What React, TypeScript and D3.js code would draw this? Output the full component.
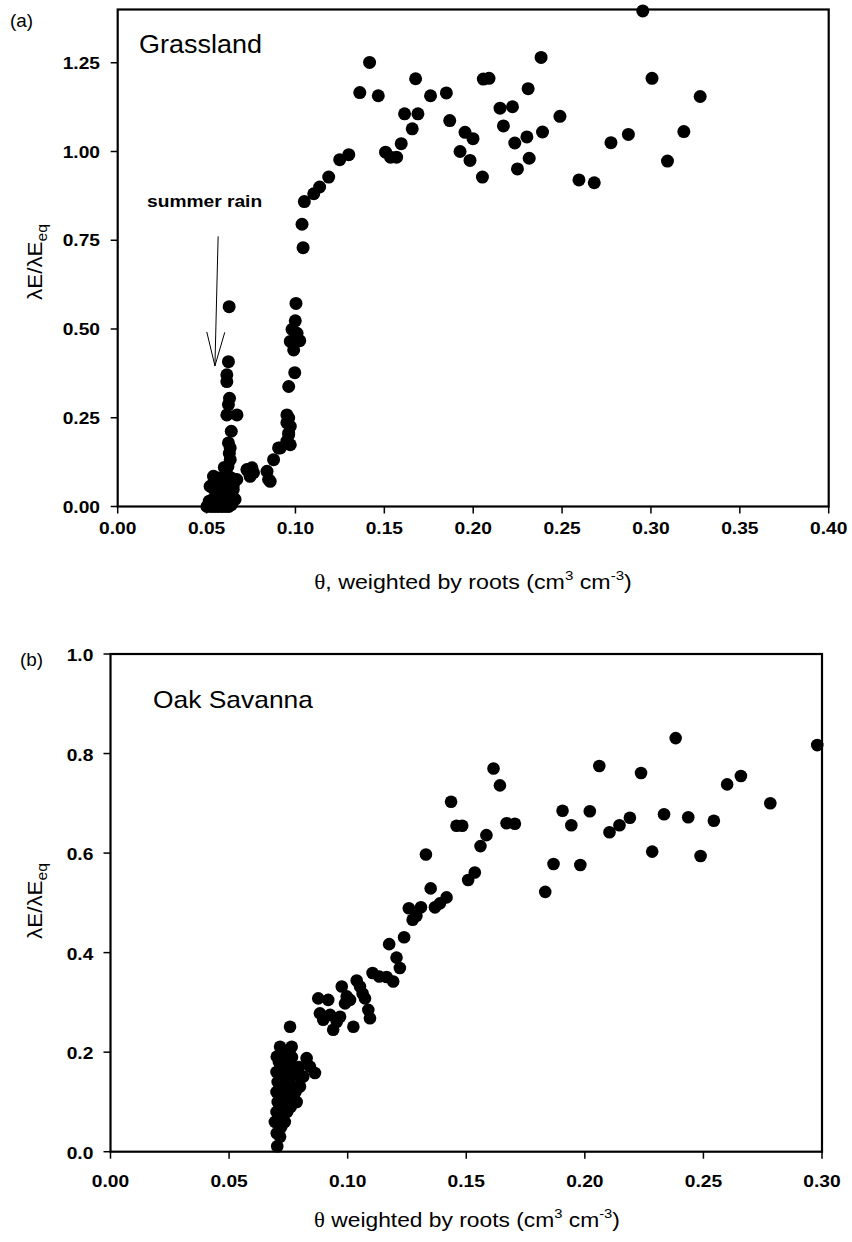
import React from 'react';
import * as d3 from 'd3';

// ---------- Panel (a) Grassland ----------
const grassTheta = [
  0.0502, 0.0525, 0.0545, 0.0565, 0.0585, 0.0605, 0.0625, 0.0640,
  0.0535, 0.0555, 0.0575, 0.0600, 0.0620, 0.0645,
  0.0540, 0.0560, 0.0585, 0.0610, 0.0630, 0.0650, 0.0520,
  0.0515, 0.0555, 0.0590, 0.0610, 0.0570, 0.0545, 0.0630, 0.0650, 0.0660,
  0.0539, 0.0565, 0.0595, 0.0615, 0.0640, 0.0670,
  0.0600, 0.0620, 0.0633, 0.0628, 0.0633, 0.0623, 0.0639,
  0.0614, 0.0671, 0.0623, 0.0629, 0.0614, 0.0614, 0.0623, 0.0627,
  0.0727, 0.0755, 0.0736, 0.0764, 0.0745, 0.0840, 0.0849, 0.0858,
  0.0877, 0.0905, 0.0915, 0.0971, 0.0952, 0.0962, 0.0962, 0.0971, 0.0962, 0.0952, 0.0952,
  0.0962, 0.0996, 0.0990, 0.0971, 0.1024, 0.1009, 0.0981, 0.0999, 0.1003,
  0.1043, 0.1037, 0.1050, 0.1103, 0.1136, 0.1187, 0.1249, 0.1300,
  0.1362, 0.1417, 0.1466, 0.1507, 0.1535, 0.1569, 0.1595, 0.1614, 0.1657, 0.1676, 0.1689,
  0.1760, 0.1849, 0.1868, 0.1926, 0.1954, 0.1982, 0.1999, 0.2052, 0.2057, 0.2089,
  0.2151, 0.2170, 0.2221, 0.2234, 0.2249, 0.2302, 0.2309, 0.2315, 0.2382, 0.2390, 0.2488,
  0.2595, 0.2681, 0.2775, 0.2873, 0.2954, 0.3006, 0.3093, 0.3185, 0.3277,
];
const grassRatio = [
  0.000, 0.000, 0.000, 0.000, 0.000, 0.000, 0.000, 0.005,
  0.020, 0.030, 0.020, 0.030, 0.020, 0.030,
  0.050, 0.060, 0.050, 0.060, 0.050, 0.048, 0.057,
  0.015, 0.045, 0.035, 0.015, 0.070, 0.065, 0.070, 0.060, 0.020,
  0.085, 0.080, 0.070, 0.090, 0.080, 0.076,
  0.110, 0.113, 0.132, 0.150, 0.165, 0.179, 0.212,
  0.258, 0.258, 0.287, 0.305, 0.352, 0.371, 0.408, 0.563,
  0.104, 0.109, 0.099, 0.095, 0.085, 0.099, 0.076, 0.071,
  0.132, 0.165, 0.165, 0.174, 0.184, 0.202, 0.207, 0.226, 0.249, 0.236, 0.258,
  0.338, 0.377, 0.441, 0.465, 0.467, 0.488, 0.499, 0.523, 0.572,
  0.729, 0.795, 0.859, 0.881, 0.900, 0.928, 0.977, 0.991,
  1.166, 1.251, 1.157, 0.998, 0.984, 0.984, 1.022, 1.106, 1.064, 1.205, 1.106,
  1.157, 1.165, 1.087, 1.000, 1.054, 0.975, 1.036, 0.928, 1.204, 1.206,
  1.122, 1.072, 1.126, 1.024, 0.951, 1.041, 1.177, 0.981, 1.265, 1.055, 1.099,
  0.920, 0.912, 1.025, 1.048, 1.396, 1.206, 0.973, 1.056, 1.155,
];
const grassXTicks = [0, 0.05, 0.1, 0.15, 0.2, 0.25, 0.3, 0.35, 0.4];
const grassYTicks = [0, 0.25, 0.5, 0.75, 1.0, 1.25];
// arrow annotation (data coords): start and tip
const rainArrowFrom = [0.0565, 0.761];
const rainArrowTo = [0.0547, 0.396];

// ---------- Panel (b) Oak Savanna ----------
const oakTheta = [
  0.0703, 0.0701, 0.0693, 0.0700, 0.0705, 0.0700, 0.0705, 0.0700, 0.0710,
  0.0720, 0.0725, 0.0720, 0.0730, 0.0725, 0.0730, 0.0720, 0.0730,
  0.0745, 0.0740, 0.0750, 0.0745, 0.0755, 0.0740, 0.0750,
  0.0765, 0.0770, 0.0760, 0.0775, 0.0765,
  0.0785, 0.0790, 0.0800, 0.0795,
  0.0715, 0.0735, 0.0710, 0.0780, 0.0760,
  0.0701, 0.0743, 0.0715, 0.0764, 0.0757,
  0.0827, 0.0841, 0.0862, 0.0813, 0.0799,
  0.0876, 0.0918, 0.0883, 0.0897, 0.0939, 0.0954, 0.0926,
  0.0975, 0.0996, 0.0989, 0.1010, 0.1024, 0.0968,
  0.1038, 0.1052, 0.1063, 0.1073, 0.1087, 0.1094,
  0.1105, 0.1133, 0.1164, 0.1192, 0.1206, 0.1220, 0.1175, 0.1238,
  0.1274, 0.1290, 0.1258, 0.1309, 0.1368, 0.1389, 0.1417, 0.1350, 0.1508, 0.1536,
  0.1330, 0.1560, 0.1585, 0.1833, 0.1868, 0.1981,
  0.1436, 0.1459, 0.1483, 0.1615, 0.1642, 0.1670, 0.1705, 0.1906, 0.1943, 0.2021,
  0.2061, 0.2104, 0.2146, 0.2190, 0.2237, 0.2284, 0.2334, 0.2383, 0.2436, 0.2488,
  0.2544, 0.2600, 0.2658, 0.2782, 0.2980,
];
const oakRatio = [
  0.011, 0.037, 0.060, 0.080, 0.100, 0.120, 0.140, 0.160, 0.180,
  0.050, 0.070, 0.090, 0.110, 0.130, 0.150, 0.170, 0.190,
  0.080, 0.100, 0.120, 0.140, 0.160, 0.180, 0.200,
  0.110, 0.130, 0.150, 0.170, 0.190,
  0.100, 0.130, 0.150, 0.170,
  0.030, 0.060, 0.100, 0.120, 0.090,
  0.191, 0.191, 0.211, 0.211, 0.251,
  0.188, 0.171, 0.158, 0.151, 0.131,
  0.308, 0.305, 0.278, 0.265, 0.245, 0.261, 0.275,
  0.332, 0.312, 0.298, 0.305, 0.251, 0.271,
  0.344, 0.332, 0.318, 0.308, 0.285, 0.268,
  0.359, 0.352, 0.351, 0.342, 0.390, 0.369, 0.417, 0.431,
  0.466, 0.474, 0.489, 0.491, 0.491, 0.499, 0.511, 0.529, 0.546, 0.561,
  0.597, 0.614, 0.636, 0.522, 0.578, 0.576,
  0.703, 0.655, 0.655, 0.770, 0.736, 0.660, 0.659, 0.685, 0.656, 0.684,
  0.775, 0.642, 0.656, 0.671, 0.761, 0.603, 0.678, 0.831, 0.672, 0.594,
  0.665, 0.738, 0.755, 0.700, 0.817,
];
const oakXTicks = [0, 0.05, 0.1, 0.15, 0.2, 0.25, 0.3];
const oakYTicks = [0, 0.2, 0.4, 0.6, 0.8, 1.0];

const SANS = "'Liberation Sans', Arial, Helvetica, sans-serif";
const SERIF = "'Liberation Serif', 'Times New Roman', serif";

type TProps = {
  x: number; y: number; size: number; sx?: number; anchor?: string;
  weight?: string; family?: string; rotate?: number; children: React.ReactNode;
};
function T({ x, y, size, sx = 1.12, anchor = 'start', weight = 'normal', family = SANS, rotate = 0, children }: TProps) {
  return (
    <text
      transform={`translate(${x},${y}) rotate(${rotate}) scale(${sx},1)`}
      textAnchor={anchor as any}
      fontSize={size}
      fontWeight={weight}
      fontFamily={family}
      fill="#000"
    >
      {children}
    </text>
  );
}

type Box = { left: number; right: number; top: number; bottom: number };

function Panel(props: {
  box: Box; xDomain: [number, number]; yDomain: [number, number];
  xTicks: number[]; yTicks: number[]; xFmt: (v: number) => string; yFmt: (v: number) => string;
  theta: number[]; ratio: number[]; r: number; xLabelY: number; yLabelDx: number; yLabelDy: number;
  children?: (x: d3.ScaleLinear<number, number>, y: d3.ScaleLinear<number, number>) => React.ReactNode;
}) {
  const { box, xDomain, yDomain, xTicks, yTicks, xFmt, yFmt, theta, ratio, r } = props;
  const x = d3.scaleLinear().domain(xDomain).range([box.left, box.right]);
  const y = d3.scaleLinear().domain(yDomain).range([box.bottom, box.top]);
  const tickLen = 7;
  return (
    <g>
      {theta.map((t, i) => (
        <circle key={i} cx={x(t)} cy={y(ratio[i])} r={r} fill="#000" />
      ))}
      <rect x={box.left} y={box.top} width={box.right - box.left} height={box.bottom - box.top}
        fill="none" stroke="#000" strokeWidth={2.2} />
      {xTicks.map((t) => (
        <g key={'x' + t}>
          <line x1={x(t)} x2={x(t)} y1={box.bottom} y2={box.bottom + tickLen} stroke="#000" strokeWidth={1.5} />
          <T x={x(t)} y={props.xLabelY} size={16} weight="bold" sx={1.2} anchor="middle">{xFmt(t)}</T>
        </g>
      ))}
      {yTicks.map((t) => (
        <g key={'y' + t}>
          <line x1={box.left - tickLen} x2={box.left} y1={y(t)} y2={y(t)} stroke="#000" strokeWidth={1.5} />
          <T x={box.left + props.yLabelDx} y={y(t) + props.yLabelDy} size={16} weight="bold" sx={1.2} anchor="end">{yFmt(t)}</T>
        </g>
      ))}
      {props.children && props.children(x, y)}
    </g>
  );
}

export default function App() {
  const boxA: Box = { left: 117.7, right: 828.7, top: 9.5, bottom: 506.5 };
  const boxB: Box = { left: 110.5, right: 822, top: 654, bottom: 1151.7 };
  const f2 = d3.format('.2f');
  const f1 = d3.format('.1f');
  return (
    <svg width={852} height={1242} style={{ position: 'absolute', left: 0, top: 0, background: '#fff' }}>
      <rect x={0} y={0} width={852} height={1242} fill="#fff" />
      <Panel box={boxA} xDomain={[0, 0.4]} yDomain={[0, 1.4]} xTicks={grassXTicks} yTicks={grassYTicks}
        xFmt={f2} yFmt={f2} theta={grassTheta} ratio={grassRatio} r={6.5} xLabelY={534} yLabelDx={-17.7} yLabelDy={6}>
        {(x, y) => {
          const x1 = x(rainArrowFrom[0]), y1 = y(rainArrowFrom[1]);
          const x2 = x(rainArrowTo[0]), y2 = y(rainArrowTo[1]);
          const ang = Math.atan2(y2 - y1, x2 - x1);
          const L = 35, spread = 0.26;
          const w1 = [x2 - L * Math.cos(ang - spread), y2 - L * Math.sin(ang - spread)];
          const w2 = [x2 - L * Math.cos(ang + spread), y2 - L * Math.sin(ang + spread)];
          return (
            <g stroke="#000" strokeWidth={1} fill="none">
              <line x1={x1} y1={y1} x2={x2} y2={y2} />
              <polyline points={`${w1[0]},${w1[1]} ${x2},${y2} ${w2[0]},${w2[1]}`} />
            </g>
          );
        }}
      </Panel>
      <T x={10} y={27} size={18} sx={1.05}>(a)</T>
      <T x={139} y={53} size={25} sx={1.08}>Grassland</T>
      <T x={147} y={207} size={16} weight="bold" sx={1.2}>summer rain</T>
      <T x={42} y={262} size={20} rotate={-90} anchor="middle">
        λE/λE<tspan dy={5} fontSize={14}>eq</tspan>
      </T>
      <T x={473} y={589} size={20} sx={1.16} anchor="middle">
        <tspan fontFamily={SERIF}>θ</tspan>, weighted by roots (cm<tspan dy={-9} fontSize={13}>3</tspan><tspan dy={9}> cm</tspan><tspan dy={-9} fontSize={13}>-3</tspan><tspan dy={9}>)</tspan>
      </T>

      <Panel box={boxB} xDomain={[0, 0.3]} yDomain={[0, 1.0]} xTicks={oakXTicks} yTicks={oakYTicks}
        xFmt={f2} yFmt={f1} theta={oakTheta} ratio={oakRatio} r={6.3} xLabelY={1187} yLabelDx={-17.2} yLabelDy={7} />
      <T x={20} y={666} size={18} sx={1.05}>(b)</T>
      <T x={153} y={708} size={24} sx={1.1}>Oak Savanna</T>
      <T x={42} y={901} size={20} rotate={-90} anchor="middle">
        λE/λE<tspan dy={5} fontSize={14}>eq</tspan>
      </T>
      <T x={467} y={1227} size={20} sx={1.14} anchor="middle">
        <tspan fontFamily={SERIF}>θ</tspan>  weighted by roots (cm<tspan dy={-9} fontSize={13}>3</tspan><tspan dy={9}> cm</tspan><tspan dy={-9} fontSize={13}>-3</tspan><tspan dy={9}>)</tspan>
      </T>
    </svg>
  );
}
